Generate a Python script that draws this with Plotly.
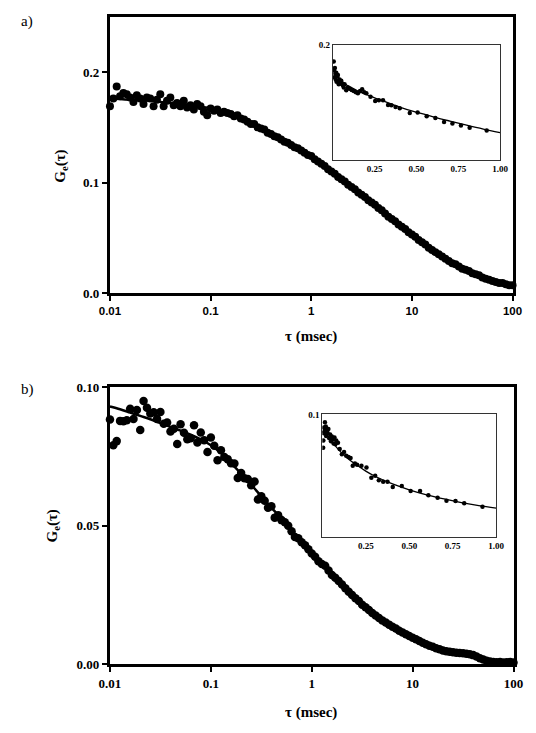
import plotly.graph_objects as go

# ---------------- data ----------------
tau_main = [
    0.0100, 0.0108, 0.01166, 0.01259, 0.01359, 0.01468, 0.01585, 0.01711, 0.01848, 0.01995,
    0.02154, 0.02326, 0.02512, 0.02712, 0.02929, 0.03162, 0.03415, 0.03687, 0.03981, 0.04299,
    0.04642, 0.05012, 0.05412, 0.05843, 0.0631, 0.06813, 0.07356, 0.07943, 0.08577, 0.09261,
    0.100, 0.108, 0.1166, 0.1259, 0.1359, 0.1468, 0.1585, 0.1711, 0.1848, 0.1995,
    0.2154, 0.2326, 0.2512, 0.2712, 0.2929, 0.3162, 0.3415, 0.3687, 0.3981, 0.4299,
    0.4642, 0.5012, 0.5412, 0.5843, 0.631, 0.6813, 0.7356, 0.7943, 0.8577, 0.9261,
    1.00, 1.08, 1.166, 1.259, 1.359, 1.468, 1.585, 1.711, 1.848, 1.995,
    2.154, 2.326, 2.512, 2.712, 2.929, 3.162, 3.415, 3.687, 3.981, 4.299,
    4.642, 5.012, 5.412, 5.843, 6.31, 6.813, 7.356, 7.943, 8.577, 9.261,
    10.0, 10.8, 11.66, 12.59, 13.59, 14.68, 15.85, 17.11, 18.48, 19.95,
    21.54, 23.26, 25.12, 27.12, 29.29, 31.62, 34.15, 36.87, 39.81, 42.99,
    46.42, 50.12, 54.12, 58.43, 63.1, 68.13, 73.56, 79.43, 85.77, 92.61,
    100.0,
]

g_a_data = [
    0.169, 0.176, 0.187, 0.178, 0.181, 0.180, 0.177, 0.173, 0.179, 0.176,
    0.171, 0.177, 0.176, 0.169, 0.175, 0.180, 0.169, 0.174, 0.177, 0.170,
    0.172, 0.169, 0.174, 0.168, 0.170, 0.166, 0.171, 0.169, 0.164, 0.161,
    0.167, 0.165, 0.166, 0.163, 0.164, 0.163, 0.162, 0.160, 0.161, 0.158,
    0.157, 0.155, 0.153, 0.153, 0.150, 0.149, 0.148, 0.145, 0.144, 0.142,
    0.141, 0.139, 0.137, 0.136, 0.134, 0.132, 0.131, 0.129, 0.127, 0.125,
    0.124, 0.121, 0.119, 0.117, 0.115, 0.112, 0.110, 0.108, 0.105, 0.103,
    0.101, 0.098, 0.096, 0.094, 0.091, 0.089, 0.087, 0.084, 0.082, 0.080,
    0.077, 0.075, 0.072, 0.069, 0.067, 0.065, 0.062, 0.060, 0.058, 0.055,
    0.053, 0.051, 0.048, 0.046, 0.044, 0.041, 0.039, 0.037, 0.035, 0.033,
    0.031, 0.029, 0.027, 0.026, 0.024, 0.022, 0.021, 0.020, 0.018, 0.017,
    0.016, 0.014, 0.013, 0.012, 0.011, 0.010, 0.009, 0.009, 0.008, 0.007,
    0.007,
]

g_a_fit = [
    0.176, 0.1755, 0.175, 0.1745, 0.174, 0.173, 0.172, 0.171, 0.170, 0.1685,
    0.167, 0.164, 0.161, 0.1575, 0.154, 0.149, 0.144, 0.139, 0.134, 0.1288,
    0.1235, 0.117, 0.110, 0.103, 0.096, 0.089, 0.082, 0.0745, 0.067, 0.060,
    0.053, 0.046, 0.039, 0.033, 0.027, 0.0225, 0.018, 0.0145, 0.011, 0.0087,
    0.007,
]

g_b_data = [
    0.0883, 0.0790, 0.0805, 0.0878, 0.0877, 0.0880, 0.0922, 0.0885, 0.0917, 0.0845,
    0.0950, 0.0925, 0.0905, 0.0909, 0.0885, 0.0910, 0.0868, 0.0872, 0.0840, 0.0850,
    0.0795, 0.0866, 0.0835, 0.0812, 0.0815, 0.0862, 0.0800, 0.0836, 0.0808, 0.0766,
    0.0818, 0.0788, 0.0736, 0.0772, 0.0748, 0.0740, 0.0725, 0.0724, 0.0672, 0.0690,
    0.0671, 0.0668, 0.0646, 0.0659, 0.0594, 0.0606, 0.0590, 0.0565, 0.0570, 0.0529,
    0.0538, 0.0520, 0.0512, 0.0500, 0.0480, 0.0459, 0.0455, 0.0440, 0.0429, 0.0415,
    0.0400, 0.0388, 0.0372, 0.0362, 0.0355, 0.0338, 0.0322, 0.0312, 0.0300, 0.0288,
    0.0274, 0.0262, 0.0250, 0.0238, 0.0228, 0.0215, 0.0206, 0.0196, 0.0185, 0.0176,
    0.0167, 0.0158, 0.0151, 0.0143, 0.0135, 0.0129, 0.0121, 0.0115, 0.0108, 0.0102,
    0.0096, 0.0090, 0.0084, 0.0078, 0.0072, 0.0067, 0.0063, 0.0058, 0.0054, 0.0050,
    0.0047, 0.0045, 0.0043, 0.0042, 0.0041, 0.0040, 0.0038, 0.0036, 0.0033, 0.0028,
    0.0022, 0.0017, 0.0013, 0.0010, 0.0008, 0.0007, 0.0008, 0.0006, 0.0007, 0.0008,
    0.0006,
]

g_b_fit = [
    0.0930, 0.0920, 0.0908, 0.0896, 0.0884, 0.0870, 0.0856, 0.0843, 0.0828, 0.0811,
    0.0790, 0.0762, 0.0726, 0.0688, 0.0648, 0.0606, 0.0565, 0.0525, 0.0484, 0.0442,
    0.0400, 0.0362, 0.0325, 0.0287, 0.0251, 0.0215, 0.0184, 0.0158, 0.0135, 0.0115,
    0.0095, 0.0078, 0.0063, 0.0051, 0.0041, 0.0033, 0.0026, 0.0019, 0.0014, 0.0009,
    0.0005,
]

# inset a (linear tau, msec)
tau_ins_a = [0.005, 0.007, 0.010, 0.012, 0.015, 0.017, 0.020, 0.022, 0.025, 0.027,
             0.030, 0.035, 0.040, 0.045, 0.050, 0.055, 0.060, 0.065, 0.070, 0.080,
             0.090, 0.100, 0.1125, 0.125, 0.1375, 0.150, 0.1625, 0.175, 0.1875, 0.200,
             0.225, 0.253, 0.275, 0.300, 0.330, 0.350, 0.375, 0.400, 0.460, 0.507,
             0.561, 0.613, 0.665, 0.715, 0.766, 0.818, 0.920]
g_ins_a = [0.1857, 0.178, 0.172, 0.180, 0.175, 0.170, 0.176, 0.168, 0.173, 0.169,
           0.174, 0.166, 0.170, 0.167, 0.169, 0.166, 0.165, 0.163, 0.166, 0.1607,
           0.163, 0.162, 0.161, 0.160, 0.159, 0.158, 0.160, 0.1615, 0.159, 0.158,
           0.155, 0.1513, 0.152, 0.152, 0.1479, 0.1475, 0.146, 0.145, 0.1408, 0.1413,
           0.1379, 0.1365, 0.133, 0.1316, 0.130, 0.128, 0.1256]
tau_ins_a_fit = [0.01, 0.02, 0.04, 0.06, 0.08, 0.1, 0.15, 0.2, 0.25, 0.3, 0.4, 0.5,
                 0.6, 0.7, 0.8, 0.9, 1.0]
g_ins_a_fit = [0.175, 0.1735, 0.171, 0.168, 0.1655, 0.164, 0.160, 0.157, 0.154, 0.1515,
               0.146, 0.1415, 0.1375, 0.1338, 0.1302, 0.1268, 0.1237]

# inset b
tau_ins_b = [0.005, 0.006, 0.008, 0.010, 0.012, 0.015, 0.017, 0.020, 0.022, 0.025,
             0.030, 0.035, 0.040, 0.045, 0.050, 0.055, 0.060, 0.065, 0.070, 0.075,
             0.080, 0.090, 0.100, 0.1125, 0.125, 0.1375, 0.150, 0.1625, 0.175, 0.1875,
             0.200, 0.225, 0.254, 0.282, 0.304, 0.325, 0.350, 0.375, 0.405, 0.457,
             0.508, 0.562, 0.610, 0.663, 0.714, 0.766, 0.816, 0.921]
g_ins_b = [0.0782, 0.0830, 0.0878, 0.0915, 0.0890, 0.0949, 0.0900, 0.0921, 0.0860, 0.0902,
           0.0880, 0.0906, 0.0845, 0.0870, 0.0825, 0.0857, 0.0840, 0.0810, 0.0850, 0.0805,
           0.0830, 0.0815, 0.0775, 0.0740, 0.0755, 0.0730, 0.0722, 0.0715, 0.0665, 0.0680,
           0.0672, 0.0665, 0.0654, 0.0586, 0.0600, 0.0570, 0.0560, 0.0560, 0.0526, 0.0533,
           0.0500, 0.0500, 0.0473, 0.0456, 0.0437, 0.0435, 0.0420, 0.0398]
tau_ins_b_fit = [0.01, 0.03, 0.05, 0.075, 0.1, 0.15, 0.2, 0.25, 0.3, 0.4, 0.5, 0.6,
                 0.7, 0.8, 0.9, 1.0]
g_ins_b_fit = [0.090, 0.0865, 0.083, 0.0795, 0.0762, 0.071, 0.0668, 0.063, 0.0598,
               0.0548, 0.0508, 0.0475, 0.0448, 0.0424, 0.0404, 0.0388]

main_xticks = [0.01, 0.1, 1, 10, 100]
main_xticktext = ["0.01", "0.1", "1", "10", "100"]
ins_xticks = [0.25, 0.5, 0.75, 1.0]
ins_xticktext = ["0.25", "0.50", "0.75", "1.00"]

# ---------------- figure ----------------
W, H = 536, 733
def px(x):
    return x / W
def py(y):
    return 1 - y / H

SERIF = "Liberation Serif"
SANS = "Liberation Sans"

fig = go.Figure()
# panel a
fig.add_trace(go.Scatter(x=tau_main, y=g_a_data, mode="markers", xaxis="x", yaxis="y",
                         marker=dict(color="black", size=8), cliponaxis=False))
fig.add_trace(go.Scatter(x=tau_main[::3], y=g_a_fit, mode="lines", xaxis="x", yaxis="y",
                         line=dict(color="black", width=2.5, shape="spline")))
fig.add_trace(go.Scatter(x=tau_ins_a, y=g_ins_a, mode="markers", xaxis="x2", yaxis="y2",
                         marker=dict(color="black", size=4.5)))
fig.add_trace(go.Scatter(x=tau_ins_a_fit, y=g_ins_a_fit, mode="lines", xaxis="x2", yaxis="y2",
                         line=dict(color="black", width=1.3, shape="spline")))
# panel b
fig.add_trace(go.Scatter(x=tau_main, y=g_b_data, mode="markers", xaxis="x3", yaxis="y3",
                         marker=dict(color="black", size=8.5), cliponaxis=False))
fig.add_trace(go.Scatter(x=tau_main[::3], y=g_b_fit, mode="lines", xaxis="x3", yaxis="y3",
                         line=dict(color="black", width=2.5, shape="spline")))
fig.add_trace(go.Scatter(x=tau_ins_b, y=g_ins_b, mode="markers", xaxis="x4", yaxis="y4",
                         marker=dict(color="black", size=4.5)))
fig.add_trace(go.Scatter(x=tau_ins_b_fit, y=g_ins_b_fit, mode="lines", xaxis="x4", yaxis="y4",
                         line=dict(color="black", width=1.3, shape="spline")))

main_line = dict(showline=True, linewidth=3, linecolor="black", mirror=True,
                 showgrid=False, zeroline=False, ticks="outside", ticklen=5,
                 tickwidth=1.5, tickcolor="black")
ins_line = dict(showline=True, linewidth=1, linecolor="#333333", mirror=True,
                showgrid=False, zeroline=False, ticks="",
                tickfont=dict(family=SERIF, size=9, color="black", weight="bold"))

fig.update_layout(
    width=W, height=H,
    margin=dict(l=0, r=0, t=0, b=0),
    paper_bgcolor="white", plot_bgcolor="white",
    showlegend=False,
    font=dict(family=SERIF, color="black"),
    xaxis=dict(type="log", range=[-2, 2], domain=[px(103), px(522)], anchor="y",
               tickvals=main_xticks, ticktext=main_xticktext,
               tickfont=dict(family=SANS, size=11.5, color="black", weight="bold"), **main_line),
    yaxis=dict(range=[0, 0.25], domain=[py(292), py(10)], anchor="x",
               tickvals=[0, 0.1, 0.2], ticktext=["0.0", "0.1", "0.2"],
               tickfont=dict(family=SERIF, size=13, color="black", weight="bold"), **main_line),
    xaxis2=dict(range=[0, 1], domain=[px(335), px(509)], anchor="y2",
                tickvals=ins_xticks, ticktext=ins_xticktext, **ins_line),
    yaxis2=dict(range=[0.1, 0.2], domain=[py(156), py(39)], anchor="x2",
                tickvals=[0.2], ticktext=["0.2"], **ins_line),
    xaxis3=dict(type="log", range=[-2, 2], domain=[px(103), px(523)], anchor="y3",
                tickvals=main_xticks, ticktext=main_xticktext,
                tickfont=dict(family=SERIF, size=13, color="black", weight="bold"), **main_line),
    yaxis3=dict(range=[0, 0.10], domain=[py(671), py(388)], anchor="x3",
                tickvals=[0, 0.05, 0.10], ticktext=["0.00", "0.05", "0.10"],
                tickfont=dict(family=SERIF, size=13, color="black", weight="bold"), **main_line),
    xaxis4=dict(range=[0, 1], domain=[px(324), px(505)], anchor="y4",
                tickvals=ins_xticks, ticktext=ins_xticktext, **ins_line),
    yaxis4=dict(range=[0.02, 0.1], domain=[py(541), py(416)], anchor="x4",
                tickvals=[0.1], ticktext=["0.1"], **ins_line),
)

annotations = [
    dict(text="a)", x=px(8), y=py(15), xanchor="left", yanchor="middle",
         font=dict(family=SERIF, size=15, color="black")),
    dict(text="b)", x=px(8), y=py(390), xanchor="left", yanchor="middle",
         font=dict(family=SERIF, size=15, color="black")),
    dict(text="<b>τ (msec)</b>", x=px(312), y=py(336), xanchor="center", yanchor="middle",
         font=dict(family=SERIF, size=15, color="black")),
    dict(text="<b>τ (msec)</b>", x=px(312), y=py(720), xanchor="center", yanchor="middle",
         font=dict(family=SERIF, size=15, color="black")),
    dict(text="<b>G<sub>e</sub>(τ)</b>", x=px(52), y=py(162), xanchor="center", yanchor="middle",
         textangle=-90, font=dict(family=SERIF, size=15, color="black")),
    dict(text="<b>G<sub>e</sub>(τ)</b>", x=px(44), y=py(530), xanchor="center", yanchor="middle",
         textangle=-90, font=dict(family=SERIF, size=15, color="black")),
]
for a in annotations:
    a.update(xref="paper", yref="paper", showarrow=False)
fig.update_layout(annotations=annotations)

fig.write_html("out.html")
